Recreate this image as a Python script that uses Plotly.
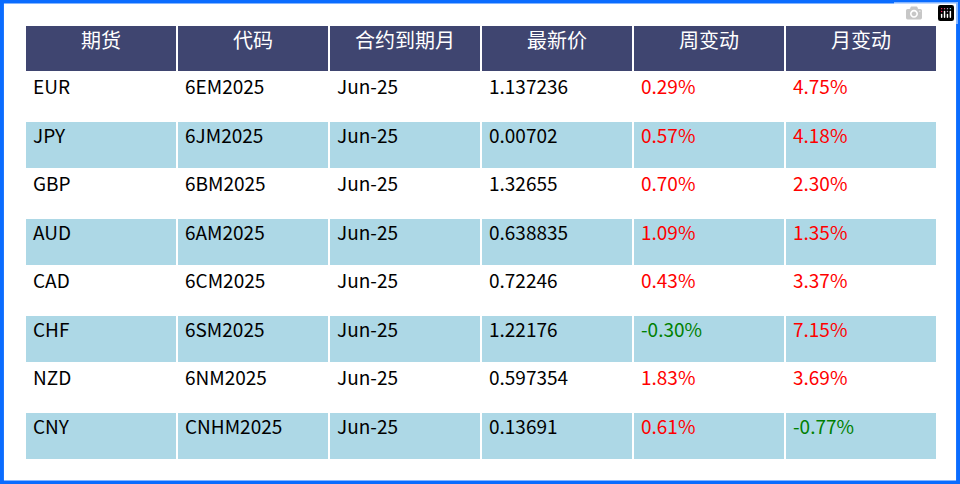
import plotly.graph_objects as go

headers = ["期货", "代码", "合约到期月", "最新价", "周变动", "月变动"]
futures = ["EUR", "JPY", "GBP", "AUD", "CAD", "CHF", "NZD", "CNY"]
codes = ["6EM2025", "6JM2025", "6BM2025", "6AM2025", "6CM2025", "6SM2025", "6NM2025", "CNHM2025"]
expiry = ["Jun-25"] * 8
latest = ["1.137236", "0.00702", "1.32655", "0.638835", "0.72246", "1.22176", "0.597354", "0.13691"]
weekly = [0.29, 0.57, 0.70, 1.09, 0.43, -0.30, 1.83, 0.61]
monthly = [4.75, 4.18, 2.30, 1.35, 3.37, 7.15, 3.69, -0.77]

RED, GREEN = "#FF0000", "#008000"
fmt = lambda v: f"{v:.2f}%"
col = lambda vals: [RED if v >= 0 else GREEN for v in vals]
black = ["black"] * 8
fills = ["white" if i % 2 == 0 else "#ADD8E6" for i in range(8)]

fig = go.Figure(go.Table(
    domain=dict(x=[25/960, 937/960], y=[1 - 462/484, 1 - 25/484]),
    columnwidth=[1] * 6,
    header=dict(values=headers, fill_color="#3F4570", align="center",
                font=dict(color="white", size=20, family="Noto Sans CJK SC"),
                line=dict(color="white", width=2), height=47),
    cells=dict(values=[futures, codes, expiry, latest,
                       [fmt(v) for v in weekly], [fmt(v) for v in monthly]],
               fill_color=[fills] * 6, align="left",
               font=dict(color=[black, black, black, black, col(weekly), col(monthly)],
                         size=19, family="Noto Sans CJK SC"),
               line=dict(color="white", width=2), height=48.5),
))
fig.update_layout(width=960, height=484, margin=dict(l=0, r=0, t=0, b=0),
                  paper_bgcolor="white",
                  shapes=[dict(type="rect", xref="paper", yref="paper", x0=0.002, x1=0.998,
                               y0=0.003, y1=0.997, line=dict(color="#0A6CFF", width=4))])
fig.write_html("out.html", post_script="document.body.style.margin='0';document.body.style.overflow='hidden';")
